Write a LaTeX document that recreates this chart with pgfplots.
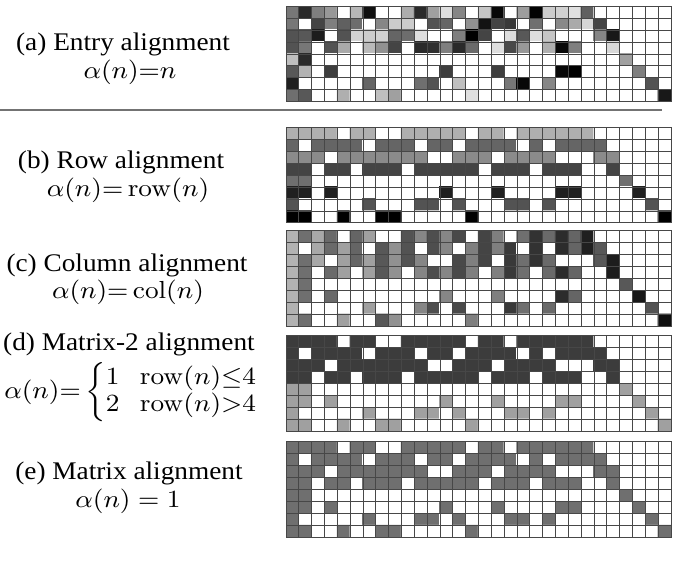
\documentclass[border=0pt]{standalone}
\usepackage{amsmath}
\usepackage[no-math]{fontspec}
\setmainfont{Liberation Serif}
\usepackage{pgfplots}
\pgfplotsset{compat=1.18}
\pgfplotsset{
  cellgrid/.style={
    scale only axis, width=130.51pt, height=32.37pt, anchor=north west,
    xmin=-0.5, xmax=29.5, ymin=-0.5, ymax=7.5, y dir=reverse,
    enlargelimits=false,
    xtick={-0.5,0.5,...,29.5}, ytick={-0.5,0.5,...,7.5},
    xticklabels={}, yticklabels={}, major tick length=0pt,
    grid=major, major grid style={black!72, line width=0.28pt},
    axis line style={black!72, line width=0.28pt},
    axis on top,
    colormap={bw}{gray(0cm)=(1); gray(1cm)=(0)},
    point meta min=0, point meta max=1,
  },
  cells/.style={matrix plot*, mesh/cols=30, point meta=explicit},
}
\begin{document}
\begin{tikzpicture}[x=0.33898pt, y=0.33898pt]
\path[use as bounding box] (0,0) rectangle (686,581);
\draw[black!55, line width=0.68pt] (0,471.3) -- (662,471.3);
\tikzset{lab/.style={font=\fontsize{9.25}{11}\selectfont, inner sep=0pt, yscale=0.93, transform shape}}
\node[lab] at (123,536.4) {(a) Entry alignment};
\node[lab] at (130,508.5) {$\alpha(n){=}n$};
\node[lab] at (121,418.2) {(b) Row alignment};
\node[lab] at (128,391) {$\alpha(n){=}\,\mathrm{row}(n)$};
\node[lab] at (127,316) {(c) Column alignment};
\node[lab] at (128,289) {$\alpha(n){=}\,\mathrm{col}(n)$};
\node[lab] at (129,237) {(d) Matrix-2 alignment};
\node[lab] at (132,188.5) {$\alpha(n){=}\left\{\renewcommand{\arraystretch}{0.9}\begin{array}{@{}l@{\hspace{0.75em}}l@{}}1 & \mathrm{row}(n){\leq}4\\ 2 & \mathrm{row}(n){>}4\end{array}\right.$};
\node[lab] at (129,107.6) {(e) Matrix alignment};
\node[lab] at (128,79.7) {$\alpha(n) = 1$};

% (a) Entry alignment
\begin{axis}[cellgrid, at={(96.95pt,194.85pt)}]
\addplot[cells] coordinates {
(0,0)[0.53] (1,0)[0.83] (2,0)[0.5] (3,0)[0.4] (4,0)[0] (5,0)[0.28] (6,0)[0.93] (7,0)[0] (8,0)[0] (9,0)[0.32] (10,0)[0.83] (11,0)[0.37] (12,0)[0.13] (13,0)[0.47] (14,0)[0] (15,0)[0.22] (16,0)[0.96] (17,0)[0] (18,0)[0.38] (19,0)[0.98] (20,0)[0.2] (21,0)[0.18] (22,0)[0.12] (23,0)[0.62] (24,0)[0] (25,0)[0] (26,0)[0] (27,0)[0] (28,0)[0] (29,0)[0]
(0,1)[0.53] (1,1)[0] (2,1)[0.73] (3,1)[0.5] (4,1)[0.62] (5,1)[0.57] (6,1)[0] (7,1)[0.47] (8,1)[0.2] (9,1)[0.2] (10,1)[0] (11,1)[0.67] (12,1)[0.6] (13,1)[0] (14,1)[0.43] (15,1)[0.92] (16,1)[0.73] (17,1)[0.77] (18,1)[0] (19,1)[0.56] (20,1)[0] (21,1)[0.46] (22,1)[0.33] (23,1)[0.16] (24,1)[0.73] (25,1)[0] (26,1)[0] (27,1)[0] (28,1)[0] (29,1)[0]
(0,2)[0.67] (1,2)[0.65] (2,2)[0.88] (3,2)[0] (4,2)[0.67] (5,2)[0.17] (6,2)[0.2] (7,2)[0.18] (8,2)[0.6] (9,2)[0.57] (10,2)[0.13] (11,2)[0] (12,2)[0] (13,2)[0.5] (14,2)[1] (15,2)[0.73] (16,2)[0] (17,2)[0.13] (18,2)[0.65] (19,2)[0.13] (20,2)[0.22] (21,2)[0] (22,2)[0] (23,2)[0] (24,2)[0.47] (25,2)[0.9] (26,2)[0] (27,2)[0] (28,2)[0] (29,2)[0]
(0,3)[0.67] (1,3)[0.53] (2,3)[0] (3,3)[0.67] (4,3)[0.33] (5,3)[0] (6,3)[0.27] (7,3)[0.43] (8,3)[0.73] (9,3)[0] (10,3)[0.83] (11,3)[0.81] (12,3)[0.5] (13,3)[0.83] (14,3)[0.58] (15,3)[0] (16,3)[0.13] (17,3)[0.71] (18,3)[0.4] (19,3)[0] (20,3)[0.31] (21,3)[0.96] (22,3)[0.5] (23,3)[0] (24,3)[0] (25,3)[0.15] (26,3)[0] (27,3)[0] (28,3)[0] (29,3)[0]
(0,4)[0.25] (1,4)[0.83] (2,4)[0] (3,4)[0] (4,4)[0] (5,4)[0] (6,4)[0] (7,4)[0] (8,4)[0] (9,4)[0] (10,4)[0] (11,4)[0] (12,4)[0] (13,4)[0] (14,4)[0] (15,4)[0] (16,4)[0] (17,4)[0] (18,4)[0] (19,4)[0] (20,4)[0] (21,4)[0] (22,4)[0] (23,4)[0] (24,4)[0] (25,4)[0] (26,4)[0.37] (27,4)[0] (28,4)[0] (29,4)[0]
(0,5)[0.65] (1,5)[0.3] (2,5)[0] (3,5)[0.75] (4,5)[0] (5,5)[0] (6,5)[0] (7,5)[0] (8,5)[0] (9,5)[0] (10,5)[0] (11,5)[0] (12,5)[0.75] (13,5)[0] (14,5)[0] (15,5)[0] (16,5)[0.75] (17,5)[0] (18,5)[0] (19,5)[0] (20,5)[0] (21,5)[0.96] (22,5)[1] (23,5)[0] (24,5)[0] (25,5)[0] (26,5)[0] (27,5)[0.5] (28,5)[0] (29,5)[0]
(0,6)[0.87] (1,6)[0] (2,6)[0] (3,6)[0] (4,6)[0] (5,6)[0] (6,6)[0.6] (7,6)[0] (8,6)[0] (9,6)[0] (10,6)[0.56] (11,6)[0.67] (12,6)[0] (13,6)[0.25] (14,6)[0] (15,6)[0] (16,6)[0] (17,6)[0.53] (18,6)[0.96] (19,6)[0] (20,6)[0.47] (21,6)[0] (22,6)[0] (23,6)[0] (24,6)[0] (25,6)[0] (26,6)[0] (27,6)[0] (28,6)[0.67] (29,6)[0]
(0,7)[0.56] (1,7)[0.65] (2,7)[0] (3,7)[0] (4,7)[0.31] (5,7)[0] (6,7)[0] (7,7)[0.25] (8,7)[0.37] (9,7)[0] (10,7)[0] (11,7)[0] (12,7)[0] (13,7)[0] (14,7)[0.12] (15,7)[0] (16,7)[0] (17,7)[0] (18,7)[0] (19,7)[0] (20,7)[0] (21,7)[0] (22,7)[0] (23,7)[0] (24,7)[0] (25,7)[0] (26,7)[0] (27,7)[0] (28,7)[0] (29,7)[0.9]
};
\end{axis}

% (b) Row alignment
\begin{axis}[cellgrid, at={(96.95pt,153.76pt)}]
\addplot[cells] coordinates {
(0,0)[0.31] (1,0)[0.31] (2,0)[0.31] (3,0)[0.31] (4,0)[0] (5,0)[0.31] (6,0)[0.31] (7,0)[0] (8,0)[0] (9,0)[0.31] (10,0)[0.31] (11,0)[0.31] (12,0)[0.31] (13,0)[0.31] (14,0)[0] (15,0)[0.31] (16,0)[0.31] (17,0)[0] (18,0)[0.31] (19,0)[0.31] (20,0)[0.31] (21,0)[0.31] (22,0)[0.31] (23,0)[0.31] (24,0)[0] (25,0)[0] (26,0)[0] (27,0)[0] (28,0)[0] (29,0)[0]
(0,1)[0.6] (1,1)[0] (2,1)[0.6] (3,1)[0.6] (4,1)[0.6] (5,1)[0.6] (6,1)[0] (7,1)[0.6] (8,1)[0.6] (9,1)[0.6] (10,1)[0] (11,1)[0.6] (12,1)[0.6] (13,1)[0] (14,1)[0.6] (15,1)[0.6] (16,1)[0.6] (17,1)[0.6] (18,1)[0] (19,1)[0.6] (20,1)[0] (21,1)[0.6] (22,1)[0.6] (23,1)[0.6] (24,1)[0.6] (25,1)[0] (26,1)[0] (27,1)[0] (28,1)[0] (29,1)[0]
(0,2)[0.45] (1,2)[0.45] (2,2)[0.45] (3,2)[0] (4,2)[0.45] (5,2)[0.45] (6,2)[0.45] (7,2)[0.45] (8,2)[0.45] (9,2)[0.45] (10,2)[0.45] (11,2)[0] (12,2)[0] (13,2)[0.45] (14,2)[0.45] (15,2)[0.45] (16,2)[0] (17,2)[0.45] (18,2)[0.45] (19,2)[0.45] (20,2)[0.45] (21,2)[0] (22,2)[0] (23,2)[0] (24,2)[0.45] (25,2)[0.45] (26,2)[0] (27,2)[0] (28,2)[0] (29,2)[0]
(0,3)[0.73] (1,3)[0.73] (2,3)[0] (3,3)[0.73] (4,3)[0.73] (5,3)[0] (6,3)[0.73] (7,3)[0.73] (8,3)[0.73] (9,3)[0] (10,3)[0.73] (11,3)[0.73] (12,3)[0.73] (13,3)[0.73] (14,3)[0.73] (15,3)[0] (16,3)[0.73] (17,3)[0.73] (18,3)[0.73] (19,3)[0] (20,3)[0.73] (21,3)[0.73] (22,3)[0.73] (23,3)[0] (24,3)[0] (25,3)[0.73] (26,3)[0] (27,3)[0] (28,3)[0] (29,3)[0]
(0,4)[0.56] (1,4)[0.56] (2,4)[0] (3,4)[0] (4,4)[0] (5,4)[0] (6,4)[0] (7,4)[0] (8,4)[0] (9,4)[0] (10,4)[0] (11,4)[0] (12,4)[0] (13,4)[0] (14,4)[0] (15,4)[0] (16,4)[0] (17,4)[0] (18,4)[0] (19,4)[0] (20,4)[0] (21,4)[0] (22,4)[0] (23,4)[0] (24,4)[0] (25,4)[0] (26,4)[0.56] (27,4)[0] (28,4)[0] (29,4)[0]
(0,5)[0.87] (1,5)[0.87] (2,5)[0] (3,5)[0.87] (4,5)[0] (5,5)[0] (6,5)[0] (7,5)[0] (8,5)[0] (9,5)[0] (10,5)[0] (11,5)[0] (12,5)[0.87] (13,5)[0] (14,5)[0] (15,5)[0] (16,5)[0.87] (17,5)[0] (18,5)[0] (19,5)[0] (20,5)[0] (21,5)[0.87] (22,5)[0.87] (23,5)[0] (24,5)[0] (25,5)[0] (26,5)[0] (27,5)[0.87] (28,5)[0] (29,5)[0]
(0,6)[0.67] (1,6)[0] (2,6)[0] (3,6)[0] (4,6)[0] (5,6)[0] (6,6)[0.67] (7,6)[0] (8,6)[0] (9,6)[0] (10,6)[0.67] (11,6)[0.67] (12,6)[0] (13,6)[0.67] (14,6)[0] (15,6)[0] (16,6)[0] (17,6)[0.67] (18,6)[0.67] (19,6)[0] (20,6)[0.67] (21,6)[0] (22,6)[0] (23,6)[0] (24,6)[0] (25,6)[0] (26,6)[0] (27,6)[0] (28,6)[0.67] (29,6)[0]
(0,7)[1] (1,7)[1] (2,7)[0] (3,7)[0] (4,7)[1] (5,7)[0] (6,7)[0] (7,7)[1] (8,7)[1] (9,7)[0] (10,7)[0] (11,7)[0] (12,7)[0] (13,7)[0] (14,7)[1] (15,7)[0] (16,7)[0] (17,7)[0] (18,7)[0] (19,7)[0] (20,7)[0] (21,7)[0] (22,7)[0] (23,7)[0] (24,7)[0] (25,7)[0] (26,7)[0] (27,7)[0] (28,7)[0] (29,7)[1]
};
\end{axis}

% (c) Column alignment
\begin{axis}[cellgrid, at={(96.95pt,118.78pt)}]
\addplot[cells] coordinates {
(0,0)[0.3] (1,0)[0.56] (2,0)[0.34] (3,0)[0.58] (4,0)[0] (5,0)[0.6] (6,0)[0.37] (7,0)[0] (8,0)[0] (9,0)[0.67] (10,0)[0.47] (11,0)[0.69] (12,0)[0.47] (13,0)[0.71] (14,0)[0] (15,0)[0.73] (16,0)[0.5] (17,0)[0] (18,0)[0.56] (19,0)[0.8] (20,0)[0.58] (21,0)[0.82] (22,0)[0.6] (23,0)[0.87] (24,0)[0] (25,0)[0] (26,0)[0] (27,0)[0] (28,0)[0] (29,0)[0]
(0,1)[0.3] (1,1)[0] (2,1)[0.34] (3,1)[0.58] (4,1)[0.37] (5,1)[0.6] (6,1)[0] (7,1)[0.65] (8,1)[0.43] (9,1)[0.67] (10,1)[0] (11,1)[0.69] (12,1)[0.47] (13,1)[0] (14,1)[0.5] (15,1)[0.73] (16,1)[0.5] (17,1)[0.77] (18,1)[0] (19,1)[0.8] (20,1)[0] (21,1)[0.82] (22,1)[0.6] (23,1)[0.87] (24,1)[0.65] (25,1)[0] (26,1)[0] (27,1)[0] (28,1)[0] (29,1)[0]
(0,2)[0.3] (1,2)[0.56] (2,2)[0.34] (3,2)[0] (4,2)[0.37] (5,2)[0.6] (6,2)[0.37] (7,2)[0.65] (8,2)[0.43] (9,2)[0.67] (10,2)[0.47] (11,2)[0] (12,2)[0] (13,2)[0.71] (14,2)[0.5] (15,2)[0.73] (16,2)[0] (17,2)[0.77] (18,2)[0.56] (19,2)[0.8] (20,2)[0.58] (21,2)[0] (22,2)[0] (23,2)[0] (24,2)[0.65] (25,2)[0.88] (26,2)[0] (27,2)[0] (28,2)[0] (29,2)[0]
(0,3)[0.3] (1,3)[0.56] (2,3)[0] (3,3)[0.58] (4,3)[0.37] (5,3)[0] (6,3)[0.37] (7,3)[0.65] (8,3)[0.43] (9,3)[0] (10,3)[0.47] (11,3)[0.69] (12,3)[0.47] (13,3)[0.71] (14,3)[0.5] (15,3)[0] (16,3)[0.5] (17,3)[0.77] (18,3)[0.56] (19,3)[0] (20,3)[0.58] (21,3)[0.82] (22,3)[0.6] (23,3)[0] (24,3)[0] (25,3)[0.88] (26,3)[0] (27,3)[0] (28,3)[0] (29,3)[0]
(0,4)[0.3] (1,4)[0.56] (2,4)[0] (3,4)[0] (4,4)[0] (5,4)[0] (6,4)[0] (7,4)[0] (8,4)[0] (9,4)[0] (10,4)[0] (11,4)[0] (12,4)[0] (13,4)[0] (14,4)[0] (15,4)[0] (16,4)[0] (17,4)[0] (18,4)[0] (19,4)[0] (20,4)[0] (21,4)[0] (22,4)[0] (23,4)[0] (24,4)[0] (25,4)[0] (26,4)[0.65] (27,4)[0] (28,4)[0] (29,4)[0]
(0,5)[0.3] (1,5)[0.56] (2,5)[0] (3,5)[0.58] (4,5)[0] (5,5)[0] (6,5)[0] (7,5)[0] (8,5)[0] (9,5)[0] (10,5)[0] (11,5)[0] (12,5)[0.47] (13,5)[0] (14,5)[0] (15,5)[0] (16,5)[0.5] (17,5)[0] (18,5)[0] (19,5)[0] (20,5)[0] (21,5)[0.82] (22,5)[0.6] (23,5)[0] (24,5)[0] (25,5)[0] (26,5)[0] (27,5)[0.9] (28,5)[0] (29,5)[0]
(0,6)[0.3] (1,6)[0] (2,6)[0] (3,6)[0] (4,6)[0] (5,6)[0] (6,6)[0.37] (7,6)[0] (8,6)[0] (9,6)[0] (10,6)[0.47] (11,6)[0.69] (12,6)[0] (13,6)[0.71] (14,6)[0] (15,6)[0] (16,6)[0] (17,6)[0.77] (18,6)[0.56] (19,6)[0] (20,6)[0.58] (21,6)[0] (22,6)[0] (23,6)[0] (24,6)[0] (25,6)[0] (26,6)[0] (27,6)[0] (28,6)[0.67] (29,6)[0]
(0,7)[0.3] (1,7)[0.56] (2,7)[0] (3,7)[0] (4,7)[0.37] (5,7)[0] (6,7)[0] (7,7)[0.65] (8,7)[0.43] (9,7)[0] (10,7)[0] (11,7)[0] (12,7)[0] (13,7)[0] (14,7)[0.5] (15,7)[0] (16,7)[0] (17,7)[0] (18,7)[0] (19,7)[0] (20,7)[0] (21,7)[0] (22,7)[0] (23,7)[0] (24,7)[0] (25,7)[0] (26,7)[0] (27,7)[0] (28,7)[0] (29,7)[0.93]
};
\end{axis}

% (d) Matrix-2 alignment
\begin{axis}[cellgrid, at={(96.95pt,83.15pt)}]
\addplot[cells] coordinates {
(0,0)[0.76] (1,0)[0.76] (2,0)[0.76] (3,0)[0.76] (4,0)[0] (5,0)[0.76] (6,0)[0.76] (7,0)[0] (8,0)[0] (9,0)[0.76] (10,0)[0.76] (11,0)[0.76] (12,0)[0.76] (13,0)[0.76] (14,0)[0] (15,0)[0.76] (16,0)[0.76] (17,0)[0] (18,0)[0.76] (19,0)[0.76] (20,0)[0.76] (21,0)[0.76] (22,0)[0.76] (23,0)[0.76] (24,0)[0] (25,0)[0] (26,0)[0] (27,0)[0] (28,0)[0] (29,0)[0]
(0,1)[0.76] (1,1)[0] (2,1)[0.76] (3,1)[0.76] (4,1)[0.76] (5,1)[0.76] (6,1)[0] (7,1)[0.76] (8,1)[0.76] (9,1)[0.76] (10,1)[0] (11,1)[0.76] (12,1)[0.76] (13,1)[0] (14,1)[0.76] (15,1)[0.76] (16,1)[0.76] (17,1)[0.76] (18,1)[0] (19,1)[0.76] (20,1)[0] (21,1)[0.76] (22,1)[0.76] (23,1)[0.76] (24,1)[0.76] (25,1)[0] (26,1)[0] (27,1)[0] (28,1)[0] (29,1)[0]
(0,2)[0.76] (1,2)[0.76] (2,2)[0.76] (3,2)[0] (4,2)[0.76] (5,2)[0.76] (6,2)[0.76] (7,2)[0.76] (8,2)[0.76] (9,2)[0.76] (10,2)[0.76] (11,2)[0] (12,2)[0] (13,2)[0.76] (14,2)[0.76] (15,2)[0.76] (16,2)[0] (17,2)[0.76] (18,2)[0.76] (19,2)[0.76] (20,2)[0.76] (21,2)[0] (22,2)[0] (23,2)[0] (24,2)[0.76] (25,2)[0.76] (26,2)[0] (27,2)[0] (28,2)[0] (29,2)[0]
(0,3)[0.76] (1,3)[0.76] (2,3)[0] (3,3)[0.76] (4,3)[0.76] (5,3)[0] (6,3)[0.76] (7,3)[0.76] (8,3)[0.76] (9,3)[0] (10,3)[0.76] (11,3)[0.76] (12,3)[0.76] (13,3)[0.76] (14,3)[0.76] (15,3)[0] (16,3)[0.76] (17,3)[0.76] (18,3)[0.76] (19,3)[0] (20,3)[0.76] (21,3)[0.76] (22,3)[0.76] (23,3)[0] (24,3)[0] (25,3)[0.76] (26,3)[0] (27,3)[0] (28,3)[0] (29,3)[0]
(0,4)[0.37] (1,4)[0.37] (2,4)[0] (3,4)[0] (4,4)[0] (5,4)[0] (6,4)[0] (7,4)[0] (8,4)[0] (9,4)[0] (10,4)[0] (11,4)[0] (12,4)[0] (13,4)[0] (14,4)[0] (15,4)[0] (16,4)[0] (17,4)[0] (18,4)[0] (19,4)[0] (20,4)[0] (21,4)[0] (22,4)[0] (23,4)[0] (24,4)[0] (25,4)[0] (26,4)[0.37] (27,4)[0] (28,4)[0] (29,4)[0]
(0,5)[0.37] (1,5)[0.37] (2,5)[0] (3,5)[0.37] (4,5)[0] (5,5)[0] (6,5)[0] (7,5)[0] (8,5)[0] (9,5)[0] (10,5)[0] (11,5)[0] (12,5)[0.37] (13,5)[0] (14,5)[0] (15,5)[0] (16,5)[0.37] (17,5)[0] (18,5)[0] (19,5)[0] (20,5)[0] (21,5)[0.37] (22,5)[0.37] (23,5)[0] (24,5)[0] (25,5)[0] (26,5)[0] (27,5)[0.37] (28,5)[0] (29,5)[0]
(0,6)[0.37] (1,6)[0] (2,6)[0] (3,6)[0] (4,6)[0] (5,6)[0] (6,6)[0.37] (7,6)[0] (8,6)[0] (9,6)[0] (10,6)[0.37] (11,6)[0.37] (12,6)[0] (13,6)[0.37] (14,6)[0] (15,6)[0] (16,6)[0] (17,6)[0.37] (18,6)[0.37] (19,6)[0] (20,6)[0.37] (21,6)[0] (22,6)[0] (23,6)[0] (24,6)[0] (25,6)[0] (26,6)[0] (27,6)[0] (28,6)[0.37] (29,6)[0]
(0,7)[0.37] (1,7)[0.37] (2,7)[0] (3,7)[0] (4,7)[0.37] (5,7)[0] (6,7)[0] (7,7)[0.37] (8,7)[0.37] (9,7)[0] (10,7)[0] (11,7)[0] (12,7)[0] (13,7)[0] (14,7)[0.37] (15,7)[0] (16,7)[0] (17,7)[0] (18,7)[0] (19,7)[0] (20,7)[0] (21,7)[0] (22,7)[0] (23,7)[0] (24,7)[0] (25,7)[0] (26,7)[0] (27,7)[0] (28,7)[0] (29,7)[0.37]
};
\end{axis}

% (e) Matrix alignment
\begin{axis}[cellgrid, at={(96.95pt,47.19pt)}]
\addplot[cells] coordinates {
(0,0)[0.56] (1,0)[0.56] (2,0)[0.56] (3,0)[0.56] (4,0)[0] (5,0)[0.56] (6,0)[0.56] (7,0)[0] (8,0)[0] (9,0)[0.56] (10,0)[0.56] (11,0)[0.56] (12,0)[0.56] (13,0)[0.56] (14,0)[0] (15,0)[0.56] (16,0)[0.56] (17,0)[0] (18,0)[0.56] (19,0)[0.56] (20,0)[0.56] (21,0)[0.56] (22,0)[0.56] (23,0)[0.56] (24,0)[0] (25,0)[0] (26,0)[0] (27,0)[0] (28,0)[0] (29,0)[0]
(0,1)[0.56] (1,1)[0] (2,1)[0.56] (3,1)[0.56] (4,1)[0.56] (5,1)[0.56] (6,1)[0] (7,1)[0.56] (8,1)[0.56] (9,1)[0.56] (10,1)[0] (11,1)[0.56] (12,1)[0.56] (13,1)[0] (14,1)[0.56] (15,1)[0.56] (16,1)[0.56] (17,1)[0.56] (18,1)[0] (19,1)[0.56] (20,1)[0] (21,1)[0.56] (22,1)[0.56] (23,1)[0.56] (24,1)[0.56] (25,1)[0] (26,1)[0] (27,1)[0] (28,1)[0] (29,1)[0]
(0,2)[0.56] (1,2)[0.56] (2,2)[0.56] (3,2)[0] (4,2)[0.56] (5,2)[0.56] (6,2)[0.56] (7,2)[0.56] (8,2)[0.56] (9,2)[0.56] (10,2)[0.56] (11,2)[0] (12,2)[0] (13,2)[0.56] (14,2)[0.56] (15,2)[0.56] (16,2)[0] (17,2)[0.56] (18,2)[0.56] (19,2)[0.56] (20,2)[0.56] (21,2)[0] (22,2)[0] (23,2)[0] (24,2)[0.56] (25,2)[0.56] (26,2)[0] (27,2)[0] (28,2)[0] (29,2)[0]
(0,3)[0.56] (1,3)[0.56] (2,3)[0] (3,3)[0.56] (4,3)[0.56] (5,3)[0] (6,3)[0.56] (7,3)[0.56] (8,3)[0.56] (9,3)[0] (10,3)[0.56] (11,3)[0.56] (12,3)[0.56] (13,3)[0.56] (14,3)[0.56] (15,3)[0] (16,3)[0.56] (17,3)[0.56] (18,3)[0.56] (19,3)[0] (20,3)[0.56] (21,3)[0.56] (22,3)[0.56] (23,3)[0] (24,3)[0] (25,3)[0.56] (26,3)[0] (27,3)[0] (28,3)[0] (29,3)[0]
(0,4)[0.56] (1,4)[0.56] (2,4)[0] (3,4)[0] (4,4)[0] (5,4)[0] (6,4)[0] (7,4)[0] (8,4)[0] (9,4)[0] (10,4)[0] (11,4)[0] (12,4)[0] (13,4)[0] (14,4)[0] (15,4)[0] (16,4)[0] (17,4)[0] (18,4)[0] (19,4)[0] (20,4)[0] (21,4)[0] (22,4)[0] (23,4)[0] (24,4)[0] (25,4)[0] (26,4)[0.56] (27,4)[0] (28,4)[0] (29,4)[0]
(0,5)[0.56] (1,5)[0.56] (2,5)[0] (3,5)[0.56] (4,5)[0] (5,5)[0] (6,5)[0] (7,5)[0] (8,5)[0] (9,5)[0] (10,5)[0] (11,5)[0] (12,5)[0.56] (13,5)[0] (14,5)[0] (15,5)[0] (16,5)[0.56] (17,5)[0] (18,5)[0] (19,5)[0] (20,5)[0] (21,5)[0.56] (22,5)[0.56] (23,5)[0] (24,5)[0] (25,5)[0] (26,5)[0] (27,5)[0.56] (28,5)[0] (29,5)[0]
(0,6)[0.56] (1,6)[0] (2,6)[0] (3,6)[0] (4,6)[0] (5,6)[0] (6,6)[0.56] (7,6)[0] (8,6)[0] (9,6)[0] (10,6)[0.56] (11,6)[0.56] (12,6)[0] (13,6)[0.56] (14,6)[0] (15,6)[0] (16,6)[0] (17,6)[0.56] (18,6)[0.56] (19,6)[0] (20,6)[0.56] (21,6)[0] (22,6)[0] (23,6)[0] (24,6)[0] (25,6)[0] (26,6)[0] (27,6)[0] (28,6)[0.56] (29,6)[0]
(0,7)[0.56] (1,7)[0.56] (2,7)[0] (3,7)[0] (4,7)[0.56] (5,7)[0] (6,7)[0] (7,7)[0.56] (8,7)[0.56] (9,7)[0] (10,7)[0] (11,7)[0] (12,7)[0] (13,7)[0] (14,7)[0.56] (15,7)[0] (16,7)[0] (17,7)[0] (18,7)[0] (19,7)[0] (20,7)[0] (21,7)[0] (22,7)[0] (23,7)[0] (24,7)[0] (25,7)[0] (26,7)[0] (27,7)[0] (28,7)[0] (29,7)[0.56]
};
\end{axis}
\end{tikzpicture}
\end{document}
